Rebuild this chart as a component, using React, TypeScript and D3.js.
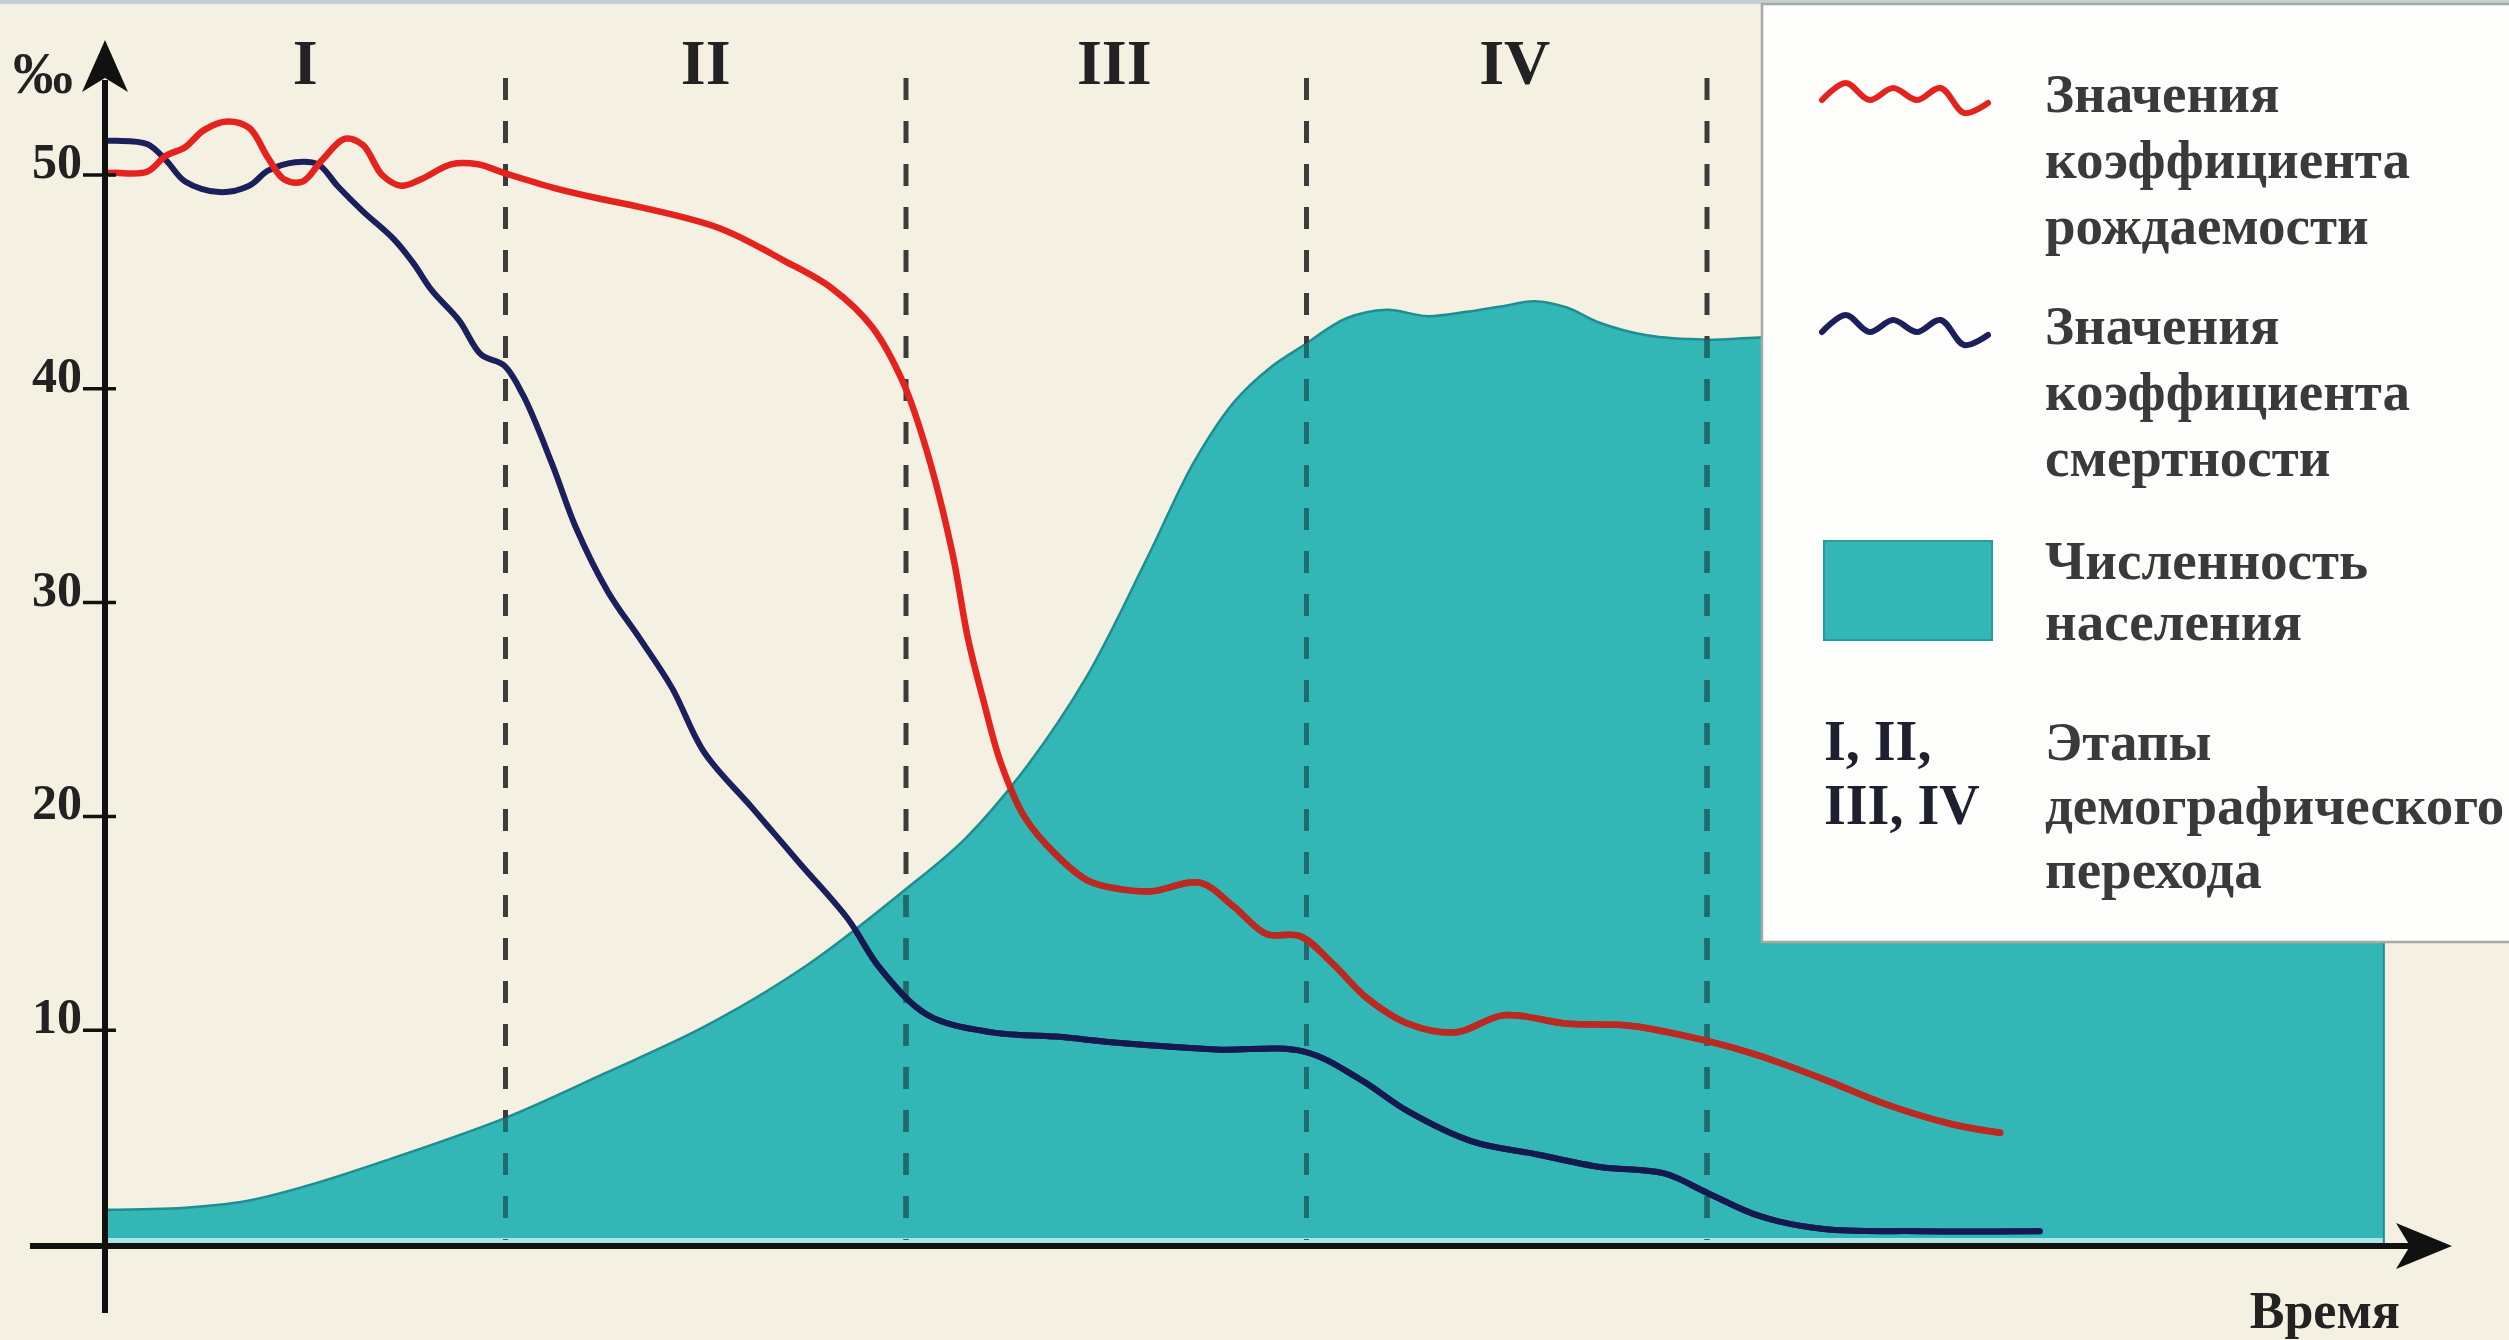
import React from "react";
import * as d3 from "d3";

// ---- data (time in stage units, values in ‰) ----
const AREA_T = [0, 0.2, 0.35, 0.5, 0.7, 1.0, 1.25, 1.5, 1.75, 2.0, 2.15, 2.3, 2.45, 2.6, 2.72, 2.82, 2.91, 2.99, 3.1, 3.2, 3.3, 3.4, 3.5, 3.57, 3.65, 3.73, 3.85, 4.0, 4.13, 4.5, 5.0, 5.69];
const AREA_V = [1.6, 1.7, 2.0, 2.7, 3.9, 5.9, 8.0, 10.2, 13.0, 16.6, 19.0, 22.3, 26.5, 32.0, 36.6, 39.4, 41.0, 42.0, 43.3, 43.7, 43.4, 43.6, 43.9, 44.1, 43.8, 43.1, 42.5, 42.3, 42.4, 42.5, 42.5, 42.5];

const BIRTH_T = [0.005, 0.027, 0.105, 0.152, 0.2, 0.247, 0.305, 0.36, 0.407, 0.447, 0.494, 0.542, 0.6, 0.644, 0.692, 0.739, 0.789, 0.864, 0.931, 0.996, 1.12, 1.233, 1.336, 1.536, 1.695, 1.815, 1.915, 1.995, 2.055, 2.115, 2.155, 2.195, 2.235, 2.295, 2.375, 2.454, 2.534, 2.614, 2.734, 2.817, 2.9, 2.984, 3.066, 3.151, 3.254, 3.373, 3.493, 3.653, 3.813, 4.0, 4.132, 4.292, 4.452, 4.612, 4.732];
const BIRTH_V = [50.1, 50.1, 50.15, 50.9, 51.3, 52.1, 52.5, 52.2, 50.8, 49.8, 49.7, 50.7, 51.7, 51.4, 50.0, 49.5, 49.8, 50.5, 50.5, 50.1, 49.4, 48.9, 48.5, 47.5, 46.0, 44.7, 42.9, 40.2, 36.9, 32.4, 28.3, 25.3, 22.6, 20.0, 18.2, 17.0, 16.6, 16.5, 16.9, 15.8, 14.5, 14.4, 13.1, 11.5, 10.3, 9.9, 10.7, 10.3, 10.2, 9.5, 8.8, 7.7, 6.5, 5.6, 5.2];

const DEATH_T = [0.005, 0.027, 0.105, 0.152, 0.2, 0.285, 0.36, 0.407, 0.475, 0.532, 0.58, 0.644, 0.721, 0.769, 0.816, 0.884, 0.939, 0.996, 1.044, 1.116, 1.176, 1.256, 1.336, 1.416, 1.496, 1.616, 1.735, 1.855, 1.935, 2.055, 2.215, 2.375, 2.535, 2.774, 2.994, 3.134, 3.254, 3.413, 3.573, 3.733, 3.893, 4.0, 4.132, 4.292, 4.532, 4.831];
const DEATH_V = [51.6, 51.6, 51.45, 50.7, 49.7, 49.2, 49.5, 50.2, 50.6, 50.5, 49.5, 48.3, 47.0, 45.9, 44.6, 43.2, 41.6, 41.1, 39.7, 36.5, 33.5, 30.5, 28.3, 26.0, 23.0, 20.4, 17.8, 15.2, 12.9, 10.7, 9.9, 9.7, 9.4, 9.1, 9.0, 7.7, 6.2, 4.8, 4.2, 3.6, 3.3, 2.4, 1.3, 0.7, 0.6, 0.6];

const Y_TICKS = [10, 20, 30, 40, 50];
const STAGE_BOUNDS = [1, 2, 3, 4];
const STAGE_LABELS = ["I", "II", "III", "IV"];
const STAGE_CENTERS = [0.5, 1.5, 2.52, 3.52];

const LEGEND_BIRTH = ["Значения", "коэффициента", "рождаемости"];
const LEGEND_DEATH = ["Значения", "коэффициента", "смертности"];
const LEGEND_POP = ["Численность", "населения"];
const LEGEND_STAGES_KEY = ["I, II,", "III, IV"];
const LEGEND_STAGES = ["Этапы", "демографического", "перехода"];
const LEGEND_WAVE = [0, -17, 0, -12, 0, -12, 13, 3]; // swatch squiggle offsets

const W = 2509;
const H = 1340;
const SERIF = "'Liberation Serif', 'Times New Roman', serif";

export default function App() {
  const x = d3.scaleLinear().domain([0, 4]).range([105, 1707]);
  const y = d3.scaleLinear().domain([0, 50]).range([1244, 175]);

  const areaData = AREA_T.map((t, i) => [t, AREA_V[i]] as [number, number]);
  const birth = BIRTH_T.map((t, i) => [t, BIRTH_V[i]] as [number, number]);
  const death = DEATH_T.map((t, i) => [t, DEATH_V[i]] as [number, number]);

  const curve = d3.curveCatmullRom.alpha(0.5);
  const areaGen = d3
    .area<[number, number]>()
    .x((d) => x(d[0]))
    .y0(y(0) - 4)
    .y1((d) => y(d[1]))
    .curve(curve);
  const lineGen = d3
    .line<[number, number]>()
    .x((d) => x(d[0]))
    .y((d) => y(d[1]))
    .curve(curve);

  const areaPath = areaGen(areaData) || "";
  const birthPath = lineGen(birth) || "";
  const deathPath = lineGen(death) || "";
  const topPath = lineGen(areaData) || "";

  // legend squiggle
  const waveX = d3.scaleLinear().domain([0, LEGEND_WAVE.length - 1]).range([1822, 1988]);
  const waveGen = (cy: number) =>
    d3
      .line<number>()
      .x((_, i) => waveX(i))
      .y((d) => cy + d)
      .curve(d3.curveCatmullRom.alpha(0.5))(LEGEND_WAVE) || "";

  const xAxisY = y(0) + 2;
  const areaRight = x(AREA_T[AREA_T.length - 1]);

  const legendText = (lines: string[], y0: number, step: number) =>
    lines.map((s, i) => (
      <text key={s + i} x={2045} y={y0 + i * step} fontFamily={SERIF} fontWeight="bold" fontSize={55} fill="#3a3a3a">
        {s}
      </text>
    ));

  return (
    <svg width={W} height={H} style={{ position: "absolute", left: 0, top: 0, display: "block" }}>
      <defs>
        <clipPath id="areaClip">
          <path d={areaPath} />
        </clipPath>
      </defs>
      <rect x={0} y={0} width={W} height={H} fill="#f4f1e3" />
      <rect x={0} y={0} width={W} height={4} fill="#c5d0d4" />

      {/* population area */}
      <path d={areaPath} fill="#32b6b6" />
      <path d={topPath} fill="none" stroke="#1f8e90" strokeWidth={2.5} />
      <line x1={x(0) + 3} x2={areaRight} y1={y(0) - 3} y2={y(0) - 3} stroke="#a9e6e3" strokeWidth={6} />
      <line x1={areaRight} x2={areaRight} y1={y(42.5)} y2={y(0)} stroke="#1f8e90" strokeWidth={2} />

      {/* stage boundaries */}
      {STAGE_BOUNDS.map((b) => (
        <line key={"d" + b} x1={x(b)} x2={x(b)} y1={78} y2={y(0) - 4} stroke="#3c3c3c" strokeWidth={5} strokeDasharray="22 21" />
      ))}
      <g clipPath="url(#areaClip)">
        {STAGE_BOUNDS.map((b) => (
          <line key={"dc" + b} x1={x(b)} x2={x(b)} y1={78} y2={y(0) - 4} stroke="#1d6d6f" strokeWidth={5} strokeDasharray="22 21" />
        ))}
      </g>
      {STAGE_LABELS.map((s, i) => (
        <text key={s} x={x(STAGE_CENTERS[i])} y={84} textAnchor="middle" fontFamily={SERIF} fontWeight="bold" fontSize={64} fill="#222">
          {s}
        </text>
      ))}

      {/* rates */}
      <path d={deathPath} fill="none" stroke="#1b1f5c" strokeWidth={6} strokeLinejoin="round" strokeLinecap="round" />
      <path d={birthPath} fill="none" stroke="#e4231f" strokeWidth={6.5} strokeLinejoin="round" strokeLinecap="round" />
      <g clipPath="url(#areaClip)">
        <path d={birthPath} fill="none" stroke="#b92b22" strokeWidth={6.5} strokeLinejoin="round" strokeLinecap="round" />
        <path d={deathPath} fill="none" stroke="#141a50" strokeWidth={6} strokeLinejoin="round" strokeLinecap="round" />
      </g>

      {/* axes */}
      <line x1={x(0)} x2={x(0)} y1={1313} y2={80} stroke="#111" strokeWidth={6} />
      <path d={`M${x(0)},40 L${x(0) + 23},92 L${x(0)},78 L${x(0) - 23},92 Z`} fill="#111" />
      <line x1={30} x2={2410} y1={xAxisY} y2={xAxisY} stroke="#111" strokeWidth={6} />
      <path d={`M2452,${xAxisY} L2396,${xAxisY - 23} L2410,${xAxisY} L2396,${xAxisY + 23} Z`} fill="#111" />
      {Y_TICKS.map((t) => (
        <g key={"t" + t}>
          <line x1={83} x2={116} y1={y(t)} y2={y(t)} stroke="#111" strokeWidth={3.5} />
          <text x={82} y={y(t) + 3} textAnchor="end" fontFamily={SERIF} fontWeight="bold" fontSize={50} fill="#222">
            {t}
          </text>
        </g>
      ))}
      <text x={43} y={93} textAnchor="middle" fontFamily={SERIF} fontWeight="bold" fontSize={60} fill="#222">
        ‰
      </text>
      <text x={2400} y={1328} textAnchor="end" fontFamily={SERIF} fontWeight="bold" fontSize={52} fill="#222">
        Время
      </text>

      {/* legend */}
      <rect x={1762} y={4} width={W - 1762 + 4} height={938} fill="#fdfdfb" stroke="#a8aaa2" strokeWidth={2.5} />
      <path d={waveGen(100)} fill="none" stroke="#e4231f" strokeWidth={6} strokeLinecap="round" />
      {legendText(LEGEND_BIRTH, 112, 66)}
      <path d={waveGen(332)} fill="none" stroke="#1b1f5c" strokeWidth={6} strokeLinecap="round" />
      {legendText(LEGEND_DEATH, 344, 66)}
      <rect x={1824} y={541} width={168} height={99} fill="#32b6b6" stroke="#2a9c9d" strokeWidth={2} />
      {legendText(LEGEND_POP, 579, 61)}
      {LEGEND_STAGES_KEY.map((s, i) => (
        <text key={s} x={1824} y={760 + i * 64} fontFamily={SERIF} fontWeight="bold" fontSize={56} fill="#1e2030">
          {s}
        </text>
      ))}
      {legendText(LEGEND_STAGES, 760, 64)}
    </svg>
  );
}
